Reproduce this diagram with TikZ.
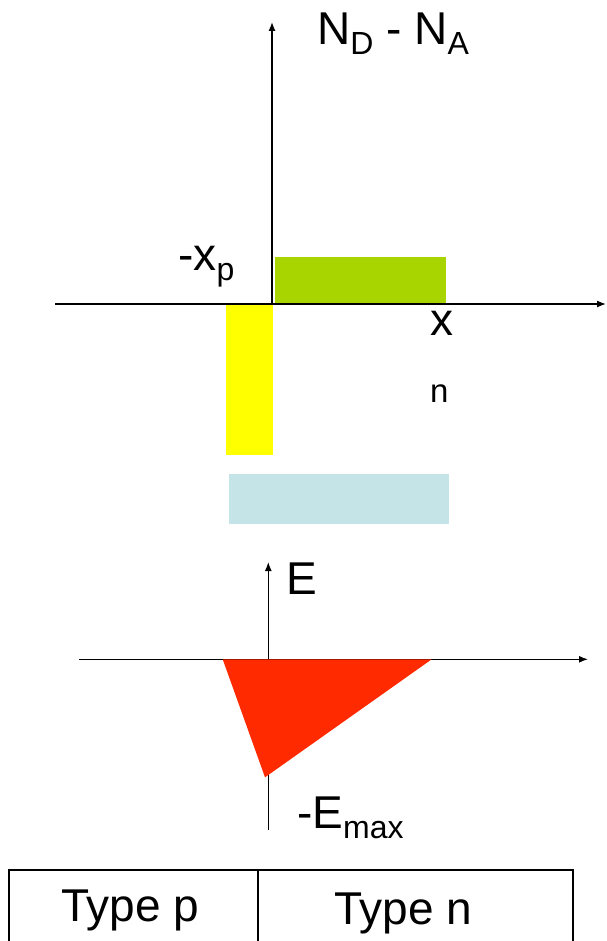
\documentclass[tikz,border=0pt]{standalone}
\usepackage{fontspec}
\setmainfont{Liberation Sans}
\usetikzlibrary{arrows.meta}
\definecolor{greenbar}{HTML}{A8D400}
\definecolor{yellowbar}{HTML}{FFFF00}
\definecolor{bluebar}{HTML}{C5E4E7}
\definecolor{redfield}{HTML}{FF2A00}
\newcommand\mysub[1]{\raisebox{-10pt}{\fontsize{32}{34}\selectfont #1}}
\begin{document}
\begin{tikzpicture}[x=1pt,y=-1pt,
  axis/.style={line width=1.3pt,-{Latex[length=9pt,width=7pt]}},
  plain/.style={line width=1.3pt},
  lbl/.style={inner sep=0pt,anchor=base west,font=\fontsize{46}{50}\selectfont},
  sublbl/.style={inner sep=0pt,anchor=base west,font=\fontsize{33}{35}\selectfont}]
\useasboundingbox (0,0) rectangle (606,941);
\clip (0,0) rectangle (606,941);
% doping profile
\fill[greenbar] (275,257) rectangle (446,304);
\fill[yellowbar] (226,304) rectangle (273,455);
\fill[bluebar] (229,474) rectangle (449,524);
\coordinate (o1) at (272,304);
\coordinate (xl) at (55,304);
\coordinate (xr) at (606,304);
\coordinate (yt) at (272,22);
\draw[axis] (xl) -- (xr);
\draw[axis] (o1) -- (yt);
\node[lbl] (nd) at (317,45) {N\mysub{D} - N\mysub{A}};
\node[lbl] (xp) at (178,270) {-x\mysub{p}};
\node[lbl] (xn) at (430,335) {x};
\node[sublbl] (nn) at (430,402) {n};
% electric field
\coordinate (el) at (79,659.3);
\coordinate (er) at (588,659.3);
\coordinate (eb) at (268.3,830);
\coordinate (et) at (268.3,562);
\coordinate (ta) at (222.7,659.3);
\coordinate (tb) at (431.7,659.3);
\coordinate (tc) at (265,777.3);
\draw[axis] (el) -- (er);
\draw[axis] (eb) -- (et);
\fill[redfield] (ta) -- (tb) -- (tc) -- cycle;
\node[lbl] (en) at (286,594) {E};
\node[lbl] (em) at (297,828) {-E\mysub{max}};
% regions
\coordinate (b1) at (9,870);
\coordinate (b2) at (573,950);
\coordinate (d1) at (258,870);
\coordinate (d2) at (258,950);
\draw[plain] (b1) rectangle (b2);
\draw[plain] (d1) -- (d2);
\node[lbl] (tp) at (61,921) {Type p};
\node[lbl] (tn) at (334,924) {Type n};
\end{tikzpicture}
\end{document}
